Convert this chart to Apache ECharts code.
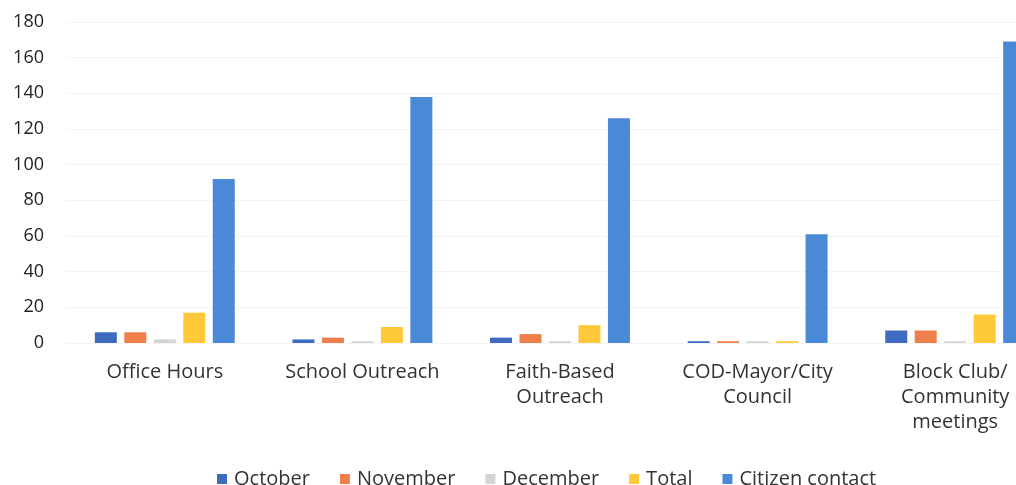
<!DOCTYPE html>
<html lang="en">
<head>
    <meta charset="utf-8"/>
    <title>Outreach</title>
    <script src="https://cdn.jsdelivr.net/npm/echarts@6/dist/echarts.min.js"></script>
    <style>
        html, body { margin: 0; padding: 0; background: #fff; overflow: hidden; }
        /* the original chart is cut off on the right, so the canvas is a bit wider than the window */
        #main { width: 1054px; height: 485px; }
    </style>
</head>
<body>
<div id="main"></div>
<script>
    // categories and series values
    var categories = ['Office Hours', 'School Outreach', 'Faith-Based\nOutreach', 'COD-Mayor/City\nCouncil', 'Block Club/\nCommunity\nmeetings'];
    var october = [6, 2, 3, 1, 7];
    var november = [6, 3, 5, 1, 7];
    var december = [2, 1, 1, 1, 1];
    var total = [17, 9, 10, 1, 16];
    var citizenContact = [92, 138, 126, 61, 169];

    var font = '"Open Sans", sans-serif';

    function bar(name, data, color) {
        return {
            name: name,
            type: 'bar',
            data: data,
            barWidth: 22,
            barGap: '34%',
            itemStyle: {color: color}
        };
    }

    var chart = echarts.init(document.getElementById('main'));
    var option = {
        animation: false,
        textStyle: {fontFamily: font},
        grid: {left: 66, top: 22, right: 0, bottom: 142, containLabel: false},
        legend: {
            top: 464,
            left: 212,
            itemWidth: 10,
            itemHeight: 10,
            itemGap: 30,
            icon: 'rect',
            textStyle: {fontSize: 20, color: '#333', fontFamily: font, padding: [0, 0, 0, 2]},
            data: ['October', 'November', 'December', 'Total', 'Citizen contact']
        },
        xAxis: {
            type: 'category',
            data: categories,
            axisLine: {show: false},
            axisTick: {show: false},
            axisLabel: {fontSize: 20, color: '#333', margin: 17, lineHeight: 25, interval: 0}
        },
        yAxis: {
            type: 'value',
            min: 0,
            max: 180,
            interval: 20,
            axisLine: {show: false},
            axisTick: {show: false},
            axisLabel: {fontSize: 18, color: '#222', margin: 22},
            splitLine: {lineStyle: {color: '#f4f4f4'}}
        },
        series: [
            bar('October', october, '#3d6bc0'),
            bar('November', november, '#ee7f4a'),
            bar('December', december, '#d4d4d4'),
            bar('Total', total, '#ffc83a'),
            bar('Citizen contact', citizenContact, '#4a88d8')
        ]
    };
    chart.setOption(option);
</script>
</body>
</html>
